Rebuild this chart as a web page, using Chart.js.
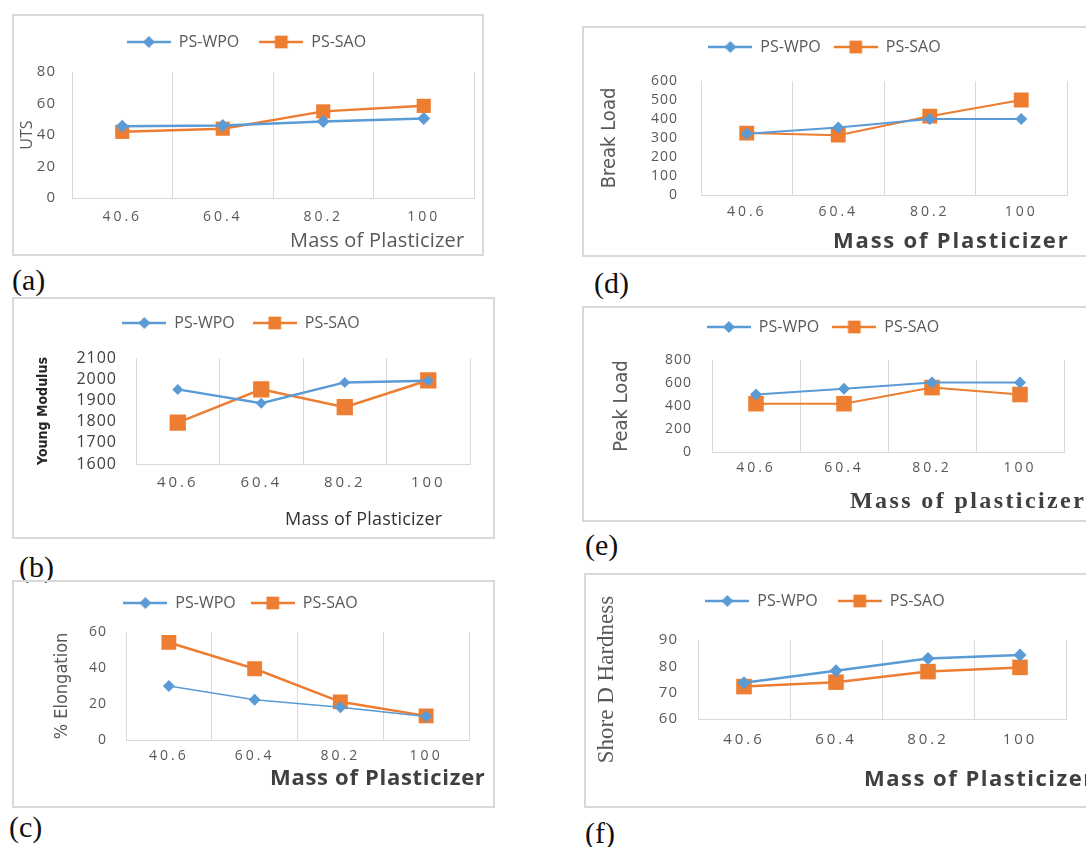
<!DOCTYPE html>
<html>
<head>
<meta charset="utf-8">
<script src="https://cdn.jsdelivr.net/npm/chart.js@4.4.0/dist/chart.umd.min.js"></script>
<style>
  html, body { margin: 0; padding: 0; background: #fff; overflow: hidden; width: 1086px; height: 847px; }
  .box { position: absolute; outline: 2px solid #d9d9d9; outline-offset: -2px; }
  .box canvas { position: absolute; left: 0; top: 0; }
  .tag { position: absolute; font-family: "Liberation Serif", "Times New Roman", serif; font-size: 30px; line-height: 30px; color: #111; }
</style>
</head>
<body>
<script>
// data
const massLabels = ['40.6', '60.4', '80.2', '100'];
const seriesNames = ['PS-WPO', 'PS-SAO'];

const utsWPO = [45.5, 46, 48.5, 50.5];
const utsSAO = [42, 44, 55, 58.5];

const youngWPO = [1952, 1887, 1985, 1993];
const youngSAO = [1795, 1952, 1868, 1995];

const elongWPO = [30, 22.3, 18.2, 13];
const elongSAO = [54.2, 39.6, 21.2, 13.4];

const breakWPO = [323, 355, 400, 400];
const breakSAO = [326, 315, 415, 500];

const peakWPO = [500, 550, 605, 605];
const peakSAO = [420, 420, 560, 500];

const shoreWPO = [73.8, 78.3, 83, 84.3];
const shoreSAO = [72.3, 74, 78, 79.6];

const BLUE = '#5B9BD5';
const ORANGE = '#ED7D31';
const GRID = '#d9d9d9';
const SANS = '"Open Sans", "Liberation Sans", sans-serif';
const NARROW = '"Liberation Sans Narrow", "DejaVu Sans Condensed", sans-serif';
const SERIF = '"Liberation Serif", "DejaVu Serif", serif';

// layout of each panel (page pixels)
const panels = [
  { tag: '(a)', tagPos: [12, 280], box: [12, 14, 484, 256], area: [72, 72, 481, 198], legY: 42,
    wpo: utsWPO, sao: utsSAO, y: [0, 80, 20],
    yTick: { size: 15, pad: 16, color: '#595959' }, xTick: { size: 14, off: 19 },
    yTitle: { text: 'UTS', family: SANS, size: 16, weight: 'normal', color: '#595959', x: 27 },
    xTitle: { text: 'Mass of Plasticizer', font: '20px ' + SANS, color: '#595959', x: 290, y: 241, sp: '0.2px' },
    mk: [6.5, 10], lw: [2.5, 2.5] },
  { tag: '(b)', tagPos: [19, 567], box: [12, 297, 495, 539], area: [136, 358, 470, 464], legY: 323,
    wpo: youngWPO, sao: youngSAO, y: [1600, 2100, 100],
    yTick: { size: 16, pad: 19, color: '#404040' }, xTick: { size: 15, off: 19 },
    yTitle: { text: 'Young Modulus', family: NARROW, size: 14, weight: 'bold', color: '#262626', x: 43 },
    xTitle: { text: 'Mass of Plasticizer', font: '18px ' + SANS, color: '#333', x: 285, y: 520, sp: '0.2px' },
    mk: [5.5, 11.5], lw: [2.5, 2.5] },
  { tag: '(c)', tagPos: [9, 827], box: [12, 580, 495, 808], area: [126, 632, 469, 740], legY: 603,
    wpo: elongWPO, sao: elongSAO, y: [0, 60, 20],
    yTick: { size: 14, pad: 19, color: '#595959' }, xTick: { size: 14, off: 16 },
    yTitle: { text: '% Elongation', family: NARROW, size: 18, weight: 'normal', color: '#595959', x: 62 },
    xTitle: { text: 'Mass of Plasticizer', font: 'bold 22px ' + SANS, color: '#404040', x: 270, y: 779, sp: '0.7px' },
    mk: [6, 10.5], lw: [1.5, 2.5] },
  { tag: '(d)', tagPos: [594, 283], box: [582, 26, 1101, 257], area: [701, 81, 1067, 195], legY: 47,
    wpo: breakWPO, sao: breakSAO, y: [0, 600, 100],
    yTick: { size: 14, pad: 23, color: '#595959' }, xTick: { size: 14, off: 17 },
    yTitle: { text: 'Break Load', family: NARROW, size: 20, weight: 'normal', color: '#595959', x: 610 },
    xTitle: { text: 'Mass of Plasticizer', font: 'bold 22px ' + SANS, color: '#404040', x: 833, y: 242, sp: '1.8px' },
    mk: [6, 10.5], lw: [2, 2] },
  { tag: '(e)', tagPos: [585, 545], box: [582, 306, 1102, 522], area: [712, 360, 1064, 452], legY: 327,
    wpo: peakWPO, sao: peakSAO, y: [0, 800, 200],
    yTick: { size: 14, pad: 20, color: '#595959' }, xTick: { size: 14, off: 16 },
    yTitle: { text: 'Peak Load', family: NARROW, size: 20, weight: 'normal', color: '#595959', x: 622 },
    xTitle: { text: 'Mass of plasticizer', font: 'bold 24px ' + SERIF, color: '#404040', x: 850, y: 502, sp: '2.4px' },
    mk: [6, 11], lw: [2, 2] },
  { tag: '(f)', tagPos: [585, 833], box: [584, 573, 1103, 808], area: [698, 640, 1066, 719], legY: 601,
    wpo: shoreWPO, sao: shoreSAO, y: [60, 90, 10],
    yTick: { size: 15, pad: 20, color: '#595959' }, xTick: { size: 15, off: 21 },
    yTitle: { text: 'Shore D Hardness', family: SERIF, size: 23, weight: 'normal', color: '#595959', x: 607 },
    xTitle: { text: 'Mass of Plasticizer', font: 'bold 22px ' + SANS, color: '#404040', x: 864, y: 780, sp: '1.5px' },
    mk: [6.5, 11], lw: [2.5, 2.5] }
];

// legend keeps a fixed height so the plot area lands where it should
const fixLegend = {
  id: 'fixLegend',
  beforeLayout(chart, args, opts) {
    const lg = chart.legend;
    if (lg && !lg._fixed) {
      const fit = lg.fit;
      lg.fit = function () { fit.call(this); this.height = opts.height; };
      lg._fixed = true;
    }
  }
};

// widen the axis numbers a bit, like the Excel export
const spacedTicks = {
  id: 'spacedTicks',
  afterLayout(chart, args, opts) {
    ['x', 'y'].forEach(k => {
      const s = chart.scales[k];
      if (!s || s._spaced) return;
      const orig = s.drawLabels;
      s.drawLabels = function (area) {
        const c = this.ctx;
        c.save();
        c.letterSpacing = opts[k];
        orig.call(this, area);
        c.restore();
      };
      s._spaced = true;
    });
  }
};

// x axis caption placed like in the figure
const xNote = {
  id: 'xNote',
  afterDraw(chart, args, o) {
    const c = chart.ctx;
    c.save();
    c.font = o.font;
    c.fillStyle = o.color;
    c.textAlign = 'left';
    c.textBaseline = 'middle';
    c.letterSpacing = o.sp;
    c.fillText(o.text, o.x, o.y);
    c.restore();
  }
};

function legendIcon(color, style, r, lw) {
  const cv = document.createElement('canvas');
  cv.width = 44; cv.height = 18;
  const c = cv.getContext('2d');
  c.strokeStyle = color; c.fillStyle = color; c.lineWidth = lw;
  c.beginPath(); c.moveTo(0, 9); c.lineTo(44, 9); c.stroke();
  c.beginPath();
  if (style === 'rectRot') {
    c.moveTo(22, 9 - r); c.lineTo(22 + r, 9); c.lineTo(22, 9 + r); c.lineTo(22 - r, 9);
  } else {
    const h = r * Math.SQRT1_2;
    c.rect(22 - h, 9 - h, 2 * h, 2 * h);
  }
  c.closePath(); c.fill();
  return cv;
}

function makePanel(p) {
  const [bl, bt, br, bb] = p.box;
  const [al, at, ar, ab] = p.area;

  const wrap = document.createElement('div');
  wrap.className = 'box';
  Object.assign(wrap.style, { left: bl + 'px', top: bt + 'px', width: (br - bl) + 'px', height: (bb - bt) + 'px' });
  const cv = document.createElement('canvas');
  cv.width = br - bl;
  cv.height = bb - bt;
  wrap.appendChild(cv);
  document.body.appendChild(wrap);

  const tag = document.createElement('div');
  tag.className = 'tag';
  tag.textContent = p.tag;
  tag.style.left = p.tagPos[0] + 'px';
  tag.style.top = (p.tagPos[1] - 15) + 'px';
  document.body.appendChild(tag);

  const legFont = 16;
  const styles = ['rectRot', 'rect'];
  const colors = [BLUE, ORANGE];

  new Chart(cv, {
    type: 'line',
    data: {
      labels: massLabels,
      datasets: [p.wpo, p.sao].map((d, i) => ({
        label: seriesNames[i],
        data: d,
        borderColor: colors[i],
        backgroundColor: colors[i],
        borderWidth: p.lw[i],
        pointStyle: styles[i],
        pointRadius: p.mk[i],
        pointBorderWidth: 0,
        tension: 0,
        fill: false
      }))
    },
    options: {
      responsive: false,
      animation: false,
      layout: { padding: { left: 0, top: 0, bottom: 0, right: br - ar } },
      plugins: {
        tooltip: { enabled: false },
        legend: {
          position: 'top',
          labels: {
            usePointStyle: true,
            pointStyleWidth: 44,
            padding: p.legY - bt - legFont / 2,
            color: '#595959',
            font: { family: SANS, size: legFont },
            generateLabels(chart) {
              return chart.data.datasets.map((ds, i) => ({
                text: ds.label,
                pointStyle: legendIcon(ds.borderColor, ds.pointStyle, ds.pointStyle === 'rectRot' ? 6 : 9, 2.5),
                fillStyle: ds.borderColor,
                strokeStyle: ds.borderColor,
                fontColor: '#595959',
                lineWidth: 0,
                hidden: false,
                datasetIndex: i
              }));
            }
          }
        },
        fixLegend: { height: at - bt },
        spacedTicks: { x: '3px', y: '1px' },
        xNote: {
          text: p.xTitle.text, font: p.xTitle.font, color: p.xTitle.color,
          x: p.xTitle.x - bl, y: p.xTitle.y - bt, sp: p.xTitle.sp
        }
      },
      scales: {
        x: {
          offset: true,
          grid: { offset: true, color: GRID, lineWidth: 1, drawTicks: false },
          border: { color: GRID, width: 1 },
          ticks: {
            color: '#595959',
            font: { family: SANS, size: p.xTick.size },
            padding: p.xTick.off - p.xTick.size * 0.6,
            maxRotation: 0
          },
          afterFit(s) { s.height = bb - ab; }
        },
        y: {
          min: p.y[0],
          max: p.y[1],
          ticks: {
            stepSize: p.y[2],
            autoSkip: false,
            color: p.yTick.color,
            font: { family: SANS, size: p.yTick.size },
            padding: p.yTick.pad,
            callback: v => String(v)
          },
          grid: { display: false, drawTicks: false },
          border: { display: false },
          title: {
            display: true,
            text: p.yTitle.text,
            color: p.yTitle.color,
            font: { family: p.yTitle.family, size: p.yTitle.size, weight: p.yTitle.weight },
            padding: { top: p.yTitle.x - bl - p.yTitle.size * 0.6, bottom: 0 }
          },
          afterFit(s) { s.width = al - bl; }
        }
      }
    },
    plugins: [fixLegend, spacedTicks, xNote]
  });
}

panels.forEach(makePanel);
</script>
</body>
</html>
